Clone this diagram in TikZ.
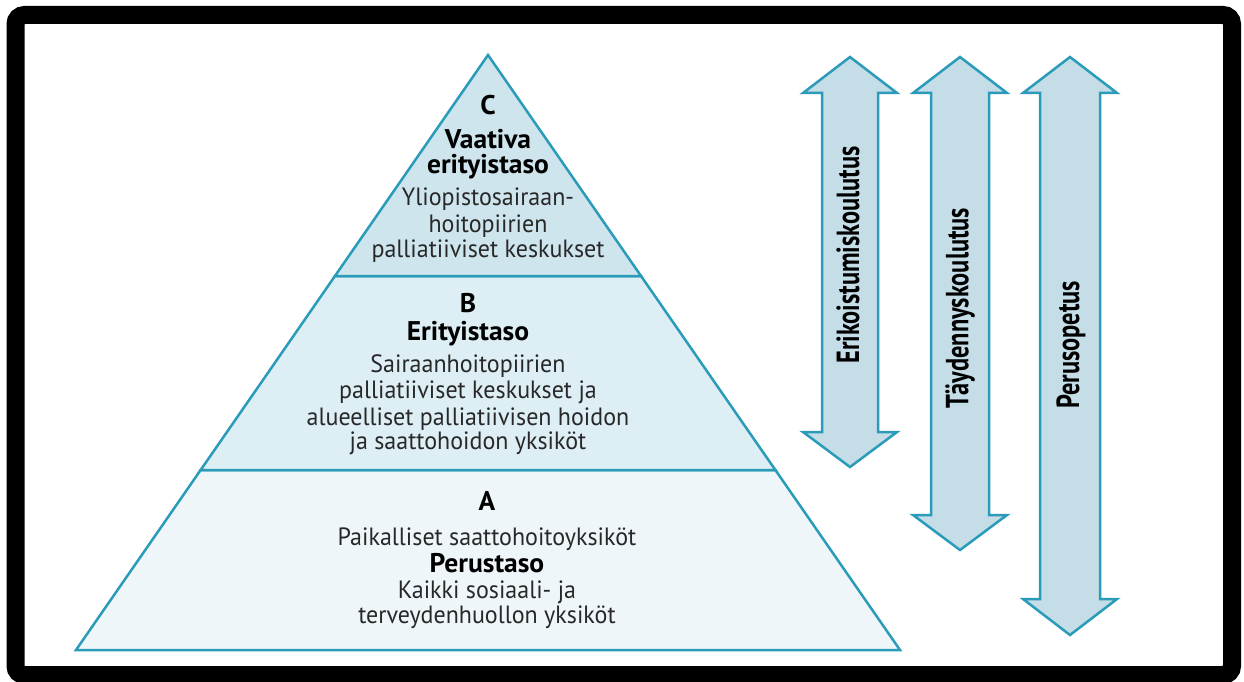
\documentclass[tikz,border=0pt]{standalone}
\usepackage{fontspec}
\setmainfont{PT Sans}[FakeStretch=0.96]
\newfontfamily\bldfont{PT Sans}[FakeStretch=1.02]
\newfontfamily\armfont{PT Sans}[FakeStretch=0.76]
\definecolor{teal}{RGB}{42,155,185}
\definecolor{cfill}{RGB}{206,229,237}
\definecolor{bfill}{RGB}{221,238,244}
\definecolor{afill}{RGB}{238,246,250}
\definecolor{arrfill}{RGB}{196,221,231}
\definecolor{txtgray}{RGB}{40,40,40}
\tikzset{
  level/.style={draw=teal, line width=2.5pt, line join=miter},
  arrshape/.style={draw=teal, fill=arrfill, line width=2.5pt, line join=miter},
  txt/.style={anchor=base, inner sep=0pt, text=txtgray, font=\fontsize{25}{28}\selectfont},
  bld/.style={anchor=base, inner sep=0pt, text=black, font=\bldfont\fontsize{27}{29}\selectfont\bfseries},
  armtxt/.style={rotate=90, inner sep=0pt, text=black, font=\armfont\fontsize{32}{34}\selectfont\bfseries},
}
\begin{document}
\begin{tikzpicture}[x=1pt,y=-1pt]
\useasboundingbox (0,0) rectangle (1244,682);
\fill[white] (0,0) rectangle (1244,682);
% frame
\draw[line width=18pt, rounded corners=9pt] (15.5,15) rectangle (1232,675);
% pyramid
\coordinate (apex) at (488,55);
\coordinate (cbl) at (334.97,276);
\coordinate (cbr) at (641.03,276);
\coordinate (bal) at (200.64,470);
\coordinate (bar) at (775.36,470);
\coordinate (bl) at (76,650);
\coordinate (br) at (900,650);
\filldraw[level, fill=afill] (bal) -- (bar) -- (br) -- (bl) -- cycle;
\filldraw[level, fill=bfill] (cbl) -- (cbr) -- (bar) -- (bal) -- cycle;
\filldraw[level, fill=cfill] (apex) -- (cbr) -- (cbl) -- cycle;
% C texts
\node[bld] (cl) at (488,115) {C};
\node[bld] (c1) at (488,148) {Vaativa};
\node[bld] (c2) at (488,173) {erityistaso};
\node[txt] (c3) at (488,205) {Yliopistosairaan-};
\node[txt] (c4) at (488,232) {hoitopiirien};
\node[txt] (c5) at (488,257) {palliatiiviset keskukset};
% B texts
\node[bld] (bl0) at (468,312) {B};
\node[bld] (b1) at (468,340) {Erityistaso};
\node[txt] (b2) at (468,372) {Sairaanhoitopiirien};
\node[txt] (b3) at (468,398) {palliatiiviset keskukset ja};
\node[txt] (b4) at (468,425) {alueelliset palliatiivisen hoidon};
\node[txt] (b5) at (468,449) {ja saattohoidon yksiköt};
% A texts
\node[bld] (al) at (487,510) {A};
\node[txt] (a1) at (487,545) {Paikalliset saattohoitoyksiköt};
\node[bld] (a2) at (487,572) {Perustaso};
\node[txt] (a3) at (487,598) {Kaikki sosiaali- ja};
\node[txt] (a4) at (487,623) {terveydenhuollon yksiköt};
% arrows
\draw[arrshape] (850,57) -- (897,93) -- (878,93) -- (878,432) -- (897,432)
  -- (850,467) -- (803,432) -- (822,432) -- (822,93) -- (803,93) -- cycle;
\draw[arrshape] (960,57) -- (1007,93) -- (989,93) -- (989,515) -- (1007,515)
  -- (960,550) -- (913,515) -- (931,515) -- (931,93) -- (913,93) -- cycle;
\draw[arrshape] (1070,57) -- (1117,93) -- (1100,93) -- (1100,599) -- (1117,599)
  -- (1070,635) -- (1023,599) -- (1040,599) -- (1040,93) -- (1023,93) -- cycle;
\node[armtxt] (t1) at (848,255) {Erikoistumiskoulutus};
\node[armtxt] (t2) at (960,308) {Täydennyskoulutus};
\node[armtxt] (t3) at (1071,345) {Perusopetus};
\end{tikzpicture}
\end{document}
